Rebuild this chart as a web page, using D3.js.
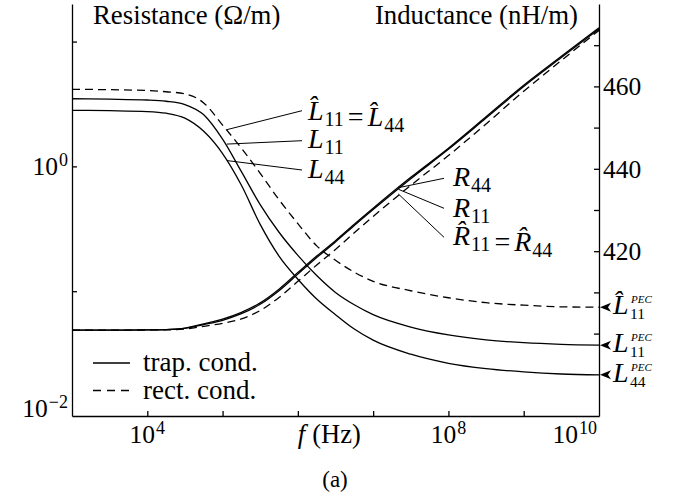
<!DOCTYPE html>
<html>
<head>
<meta charset="utf-8">
<script src="https://cdn.jsdelivr.net/npm/d3@7"></script>
<style>
  body { margin: 0; background: #fff; }
</style>
</head>
<body>
<div id="chart"></div>
<script>
// frequency grid (Hz)
const freq = [1e3, 3.16e3, 1e4, 1.78e4, 3.16e4, 5.62e4, 1e5, 1.78e5, 3.16e5, 5.62e5,
              1e6, 1.78e6, 3.16e6, 5.62e6, 1e7, 3.16e7, 1e8, 3.16e8, 1e9, 3.16e9, 1e10];

// resistance (Ohm/m), left log axis
const R11  = [0.0488, 0.0488, 0.0489, 0.0492, 0.0503, 0.0540, 0.0585, 0.0660, 0.0785, 0.101,
              0.137, 0.186, 0.248, 0.336, 0.451, 0.797, 1.37, 2.44, 4.37, 7.45, 12.6];
const R44  = [0.0488, 0.0488, 0.0489, 0.0493, 0.0506, 0.0548, 0.0597, 0.0677, 0.0806, 0.1037,
              0.141, 0.191, 0.254, 0.344, 0.462, 0.817, 1.40, 2.50, 4.47, 7.62, 12.9];
const Rhat = [0.0488, 0.0488, 0.0489, 0.0490, 0.0497, 0.0523, 0.0553, 0.0600, 0.0700, 0.089,
              0.120, 0.162, 0.216, 0.294, 0.397, 0.705, 1.22, 2.19, 4.00, 7.05, 12.3];

// inductance (nH/m), right linear axis
const Lhat = [459.3, 459.2, 459.0, 458.7, 458.2, 456.0, 450.6, 445.0, 438.9, 432.5,
              426.7, 421.3, 417.8, 414.9, 412.7, 410.4, 408.7, 407.5, 406.9, 406.5, 406.4];
const L11  = [457.0, 456.9, 456.7, 456.4, 455.6, 453.1, 447.2, 439.3, 431.3, 424.6,
              419.0, 414.1, 410.0, 407.0, 404.6, 401.6, 399.7, 398.5, 397.8, 397.4, 397.2];
const L44  = [454.2, 454.1, 453.9, 453.5, 452.3, 449.1, 443.7, 436.0, 426.5, 418.8,
              413.2, 408.4, 404.6, 401.1, 398.4, 395.0, 392.8, 391.5, 390.7, 390.2, 390.0];

// ticks and labels
const xTicks = [1e4, 1e5, 1e6, 1e7, 1e8, 1e9];
const xTickLabels = [[1e4, "4"], [1e8, "8"], [1e10, "10"]];
const rTicks = [1e-1, 1e0, 1e1];
const rTickLabels = [[1e0, "0"], [1e-2, "\u22122"]];
const lTicks = [400, 410, 420, 430, 440, 450, 460, 470];
const lTickLabels = [420, 440, 460];

const series = [
  { name: "R11", values: R11, axis: "R", dashed: false },
  { name: "R44", values: R44, axis: "R", dashed: false },
  { name: "Rhat", values: Rhat, axis: "R", dashed: true },
  { name: "L11", values: L11, axis: "L", dashed: false },
  { name: "L44", values: L44, axis: "L", dashed: false },
  { name: "Lhat", values: Lhat, axis: "L", dashed: true }
];

const margin = { top: 4, right: 84, bottom: 79, left: 72 };
const width = 683 - margin.left - margin.right;
const height = 495 - margin.top - margin.bottom;

const svg = d3.select("#chart")
  .append("svg")
  .attr("width", 683)
  .attr("height", 495)
  .attr("font-family", "'Liberation Serif', 'Tinos', 'Times New Roman', 'DejaVu Serif', serif")
  .append("g")
  .attr("transform", `translate(${margin.left},${margin.top})`);

const x = d3.scaleLog().domain([1e3, 1e10]).range([0, width]);
const yR = d3.scaleLog().domain([1e-2, 20]).range([height, 0]);
const yL = d3.scaleLinear().domain([380, 480]).range([height, 0]);

// curves
series.forEach(s => {
  const yS = s.axis === "R" ? yR : yL;
  svg.append("path")
    .datum(freq.map((f, i) => [f, s.values[i]]))
    .attr("d", d3.line()
      .x(d => x(d[0]))
      .y(d => yS(d[1]))
      .curve(d3.curveMonotoneX))
    .attr("fill", "none")
    .attr("stroke", "#000")
    .attr("stroke-width", 1.3)
    .attr("stroke-dasharray", s.dashed ? "8,5" : null);
});

// axes (ticks pointing inward)
const axB = svg.append("g")
  .attr("transform", `translate(0,${height})`)
  .call(d3.axisBottom(x).tickValues(xTicks).tickSize(-5).tickSizeOuter(0).tickFormat(""));
const axL = svg.append("g")
  .call(d3.axisLeft(yR).tickValues(rTicks).tickSize(-5).tickSizeOuter(0).tickFormat(""));
const axR = svg.append("g")
  .attr("transform", `translate(${width},0)`)
  .call(d3.axisRight(yL).tickValues(lTicks).tickSize(-5).tickSizeOuter(0).tickFormat(""));
[axB, axL, axR].forEach(a => a.selectAll("path, line").attr("stroke", "#000").attr("stroke-width", 1.3));

// power-of-ten label helper
function pow10(g, px, py, exp, anchor) {
  const t = g.append("text")
    .attr("x", px).attr("y", py)
    .attr("text-anchor", anchor)
    .attr("font-size", 25.5);
  t.append("tspan").text("10");
  t.append("tspan").attr("font-size", 18).attr("dx", 1).attr("dy", -9).text(exp);
  return t;
}

xTickLabels.forEach(([v, e]) => {
  const last = v === x.domain()[1];
  pow10(svg, last ? x(v) - 2 : x(v), height + 27, e, last ? "end" : "middle");
});
rTickLabels.forEach(([v, e]) => {
  const bottom = v === yR.domain()[0];
  pow10(svg, -4, bottom ? yR(v) + 0.5 : yR(v) + 9, e, "end");
});
lTickLabels.forEach(v => {
  svg.append("text")
    .attr("x", width + 4).attr("y", yL(v) + 9)
    .attr("font-size", 25.5)
    .text(v);
});

// axis titles
svg.append("text").attr("x", 21).attr("y", 19.5).attr("font-size", 26.8)
  .text("Resistance (\u03A9/m)");
svg.append("text").attr("x", 506).attr("y", 19.5).attr("font-size", 26.8)
  .attr("text-anchor", "end").text("Inductance (nH/m)");
const fl = svg.append("text").attr("x", x(1e6)).attr("y", height + 27).attr("font-size", 26.5);
fl.append("tspan").attr("font-style", "italic").text("f");
fl.append("tspan").attr("dx", 7).text("(Hz)");
svg.append("text").attr("x", 263).attr("y", 483).attr("font-size", 23)
  .attr("text-anchor", "middle").text("(a)");

// legend
const legend = svg.append("g").attr("transform", "translate(21,359)");
[["trap. cond.", false], ["rect. cond.", true]].forEach(([label, dashed], i) => {
  legend.append("line")
    .attr("x1", 0).attr("x2", 37)
    .attr("y1", i * 27.5).attr("y2", i * 27.5)
    .attr("stroke", "#000").attr("stroke-width", 1.3)
    .attr("stroke-dasharray", dashed ? "8,6" : null);
  legend.append("text")
    .attr("x", 50).attr("y", i * 27.5 + 8)
    .attr("font-size", 27)
    .text(label);
});

// math label: italic letter (optional hat) with subscript
function mathLabel(t, base, hat, sub, lead) {
  t.append("tspan").attr("font-style", "italic").attr("dx", lead || 0).text(hat ? base + "\u0302" : base);
  t.append("tspan").attr("font-size", 20).attr("dx", 1).attr("dy", 6).text(sub);
  t.append("tspan").attr("dy", -6).text("");
}

// leader annotations: anchor on curve (frequency, value) and label baseline
const leaders = [
  { f: 1.14e5, v: 449.5, axis: "L", lx: 230, ly: 106.7, tx: 236, ty: 116, parts: [["L", true, "11"], ["L", true, "44"]] },
  { f: 1.14e5, v: 446.0, axis: "L", lx: 230, ly: 136.7, tx: 236, ty: 144.3, parts: [["L", false, "11"]] },
  { f: 1.14e5, v: 442.0, axis: "L", lx: 230, ly: 166, tx: 236, ty: 174.3, parts: [["L", false, "44"]] },
  { f: 2.17e7, v: 0.675, axis: "R", lx: 372, ly: 174.3, tx: 381, ty: 181.7, parts: [["R", false, "44"]] },
  { f: 2.17e7, v: 0.655, axis: "R", lx: 372, ly: 204.3, tx: 381, ty: 212.7, parts: [["R", false, "11"]] },
  { f: 2.17e7, v: 0.60, axis: "R", lx: 372, ly: 233.3, tx: 381, ty: 241, parts: [["R", true, "11"], ["R", true, "44"]] }
];
leaders.forEach(a => {
  const yS = a.axis === "R" ? yR : yL;
  svg.append("line")
    .attr("x1", x(a.f)).attr("y1", yS(a.v))
    .attr("x2", a.lx).attr("y2", a.ly)
    .attr("stroke", "#000").attr("stroke-width", 1);
  const t = svg.append("text").attr("x", a.tx).attr("y", a.ty).attr("font-size", 28);
  a.parts.forEach((p, i) => {
    if (i > 0) t.append("tspan").attr("dx", 4).text("=");
    mathLabel(t, p[0], p[1], p[2], i > 0 ? 4 : 0);
  });
});

// PEC limits on the right axis
const pec = [[Lhat, true, "11"], [L11, false, "11"], [L44, false, "44"]];
pec.forEach(([vals, hat, sub]) => {
  const py = yL(vals[vals.length - 1]);
  svg.append("path")
    .attr("d", `M${width + 1},${py} L${width + 12},${py - 4.5} L${width + 9},${py} L${width + 12},${py + 4.5} Z`)
    .attr("fill", "#000");
  svg.append("text").attr("x", width + 14).attr("y", py + 7).attr("font-size", 28)
    .attr("font-style", "italic").text(hat ? "L\u0302" : "L");
  svg.append("text").attr("x", width + 32).attr("y", py - 4).attr("font-size", 11)
    .attr("font-style", "italic").text("PEC");
  svg.append("text").attr("x", width + 31).attr("y", py + 12.2).attr("font-size", 15.5)
    .text(sub);
});
</script>
</body>
</html>
